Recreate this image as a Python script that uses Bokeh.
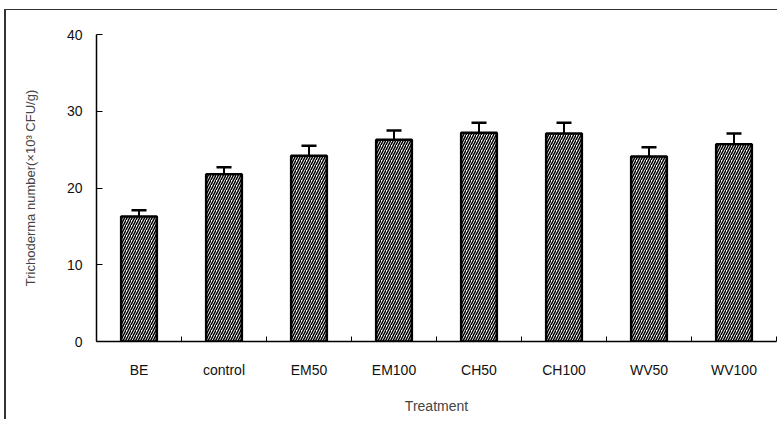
from bokeh.plotting import figure
from bokeh.models import ColumnDataSource, FixedTicker, Whisker, TeeHead, Range1d
from bokeh.embed import file_html
from bokeh.resources import INLINE

treatments = ["BE", "control", "EM50", "EM100", "CH50", "CH100", "WV50", "WV100"]
means = [16.3, 21.8, 24.2, 26.3, 27.2, 27.1, 24.1, 25.7]
errors = [0.8, 0.9, 1.3, 1.2, 1.3, 1.4, 1.2, 1.4]
y_ticks = [0, 10, 20, 30, 40]

n = len(treatments)
xpos = [i + 0.5 for i in range(n)]
upper = [m + e for m, e in zip(means, errors)]
src = ColumnDataSource(dict(x=xpos, top=means, upper=upper, name=treatments))

FONT = "Liberation Sans"

p = figure(width=773, height=410, output_backend="svg", toolbar_location=None,
           x_range=Range1d(0, n), y_range=Range1d(0, 40),
           min_border_left=90, min_border_right=3, min_border_top=24, min_border_bottom=79)
p.styles = {"margin-left": "6px", "margin-top": "10px",
            "box-shadow": "-2px -1px 0px 0px #333"}
p.outline_line_color = None
p.grid.visible = False
p.background_fill_color = "white"
p.border_fill_color = "white"

p.vbar(x="x", top="top", width=0.42, source=src, fill_color="white",
       line_color="black", line_width=2.5,
       hatch_pattern="/", hatch_color="black", hatch_scale=5, hatch_weight=1.5)

w = Whisker(base="x", lower="top", upper="upper", source=src,
            line_color="black", line_width=2,
            upper_head=TeeHead(size=15, line_width=2.5, line_color="black"),
            lower_head=None)
p.add_layout(w)

xa = p.xaxis[0]
xa.ticker = FixedTicker(ticks=xpos, minor_ticks=[float(i) for i in range(1, n + 1)])
xa.major_label_overrides = {x: t for x, t in zip(xpos, treatments)}
xa.major_tick_line_color = None
xa.minor_tick_in = 5
xa.minor_tick_out = 0
xa.minor_tick_line_color = "black"
xa.axis_line_color = "black"
xa.axis_line_width = 1.5
xa.major_label_standoff = 14
xa.major_label_text_font = FONT
xa.major_label_text_font_size = "14px"
xa.major_label_text_color = "#111"
xa.axis_label = "Treatment"
xa.axis_label_text_font = FONT
xa.axis_label_text_font_size = "14px"
xa.axis_label_text_font_style = "normal"
xa.axis_label_standoff = 17

ya = p.yaxis[0]
ya.ticker = FixedTicker(ticks=y_ticks)
ya.major_tick_in = 6
ya.major_tick_out = 0
ya.minor_tick_line_color = None
ya.axis_line_color = "black"
ya.axis_line_width = 1.5
ya.major_label_standoff = 14
ya.major_label_text_font = FONT
ya.major_label_text_font_size = "14px"
ya.major_label_text_color = "#111"
ya.axis_label = "Trichoderma number(\u00d710\u00b3 CFU/g)"
ya.axis_label_text_font = FONT
ya.axis_label_text_font_size = "13px"
ya.axis_label_text_font_style = "normal"
ya.axis_label_standoff = 26

open("out.html", "w").write(file_html(p, INLINE))
